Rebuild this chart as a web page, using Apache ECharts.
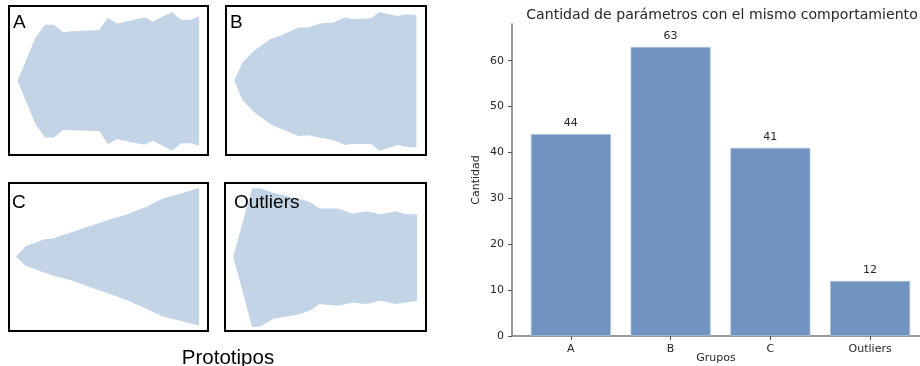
<!DOCTYPE html>
<html>
<head>
<meta charset="utf-8">
<script src="https://cdn.jsdelivr.net/npm/echarts@6/dist/echarts.min.js"></script>
<style>html,body{margin:0;padding:0;background:#fff}#c{width:920px;height:366px}</style>
</head>
<body>
<div id="c"></div>
<script>
// ---- Prototype bands (x: % of time span, values: normalized amplitude 0..100) ----
const protoA_x     = [4.3, 13.4, 18.1, 22.5, 27.2, 31.7, 45.4, 49.6, 54.4, 68.2, 72.3, 81.9, 86.4, 91.4, 95.5];
const protoA_upper = [49.9, 79.0, 87.4, 87.4, 82.3, 83.0, 83.9, 91.9, 88.3, 92.3, 89.6, 96.0, 90.7, 90.7, 92.9];
const protoA_lower = [49.9, 20.5, 11.7, 11.7, 16.8, 16.6, 16.1, 7.3, 10.6, 6.8, 9.5, 2.8, 7.9, 7.9, 6.2];

const protoB_x     = [4.1, 8.3, 14.0, 22.3, 27.2, 36.3, 41.2, 47.0, 53.6, 59.4, 63.5, 72.6, 76.7, 85.8, 90.0, 95.2];
const protoB_upper = [50.0, 62.2, 70.0, 77.8, 80.0, 85.5, 85.5, 88.2, 88.9, 92.2, 91.1, 91.8, 96.0, 93.3, 94.5, 94.0];
const protoB_lower = [50.0, 36.7, 28.9, 20.7, 17.8, 12.7, 13.3, 11.5, 10.0, 6.7, 7.3, 7.3, 2.9, 6.7, 5.5, 5.1];

const protoC_x     = [3.5, 8.5, 17.6, 22.5, 30.8, 40.8, 50.7, 59.1, 69.0, 77.3, 85.6, 95.5];
const protoC_upper = [50.1, 57.4, 61.9, 62.6, 66.4, 70.9, 75.4, 78.7, 83.9, 89.5, 92.6, 96.6];
const protoC_lower = [50.1, 44.0, 39.5, 37.3, 34.4, 29.5, 25.0, 21.0, 15.0, 9.8, 7.1, 3.8];

const protoO_x     = [4.1, 13.5, 17.6, 24.1, 35.7, 42.2, 47.1, 56.2, 63.5, 70.1, 77.5, 84.9, 89.9, 95.6];
const protoO_upper = [50.4, 96.4, 96.4, 93.3, 89.7, 87.1, 82.7, 82.7, 79.3, 80.9, 78.9, 80.9, 78.9, 78.9];
const protoO_lower = [50.4, 2.7, 3.1, 8.2, 10.9, 13.7, 18.2, 17.1, 19.3, 18.2, 20.4, 18.2, 19.2, 20.4];

const protoLabels = ['A', 'B', 'C', 'Outliers'];

// ---- Bar chart ----
const groups = ['A', 'B', 'C', 'Outliers'];
const counts = [44, 63, 41, 12];
const yTicks = [0, 10, 20, 30, 40, 50, 60];
const xTicks = [0, 1, 2, 3];

const chart = echarts.init(document.getElementById('c'), null, {renderer: 'canvas'});

const panelRects = [
  {left: 9, top: 6, width: 199, height: 149},
  {left: 226, top: 6, width: 200, height: 149},
  {left: 9, top: 183, width: 199, height: 148},
  {left: 225, top: 183, width: 201, height: 148}
];
const protos = [
  [protoA_x, protoA_upper, protoA_lower],
  [protoB_x, protoB_upper, protoB_lower],
  [protoC_x, protoC_upper, protoC_lower],
  [protoO_x, protoO_upper, protoO_lower]
];
const bandColor = '#c2d4e5';

const grids = [], xAxes = [], yAxes = [], series = [];
panelRects.forEach((r, i) => {
  grids.push(Object.assign({show: true, borderColor: '#000', borderWidth: 2, backgroundColor: '#fff',
    outerBoundsMode: 'none', containLabel: false}, r));
  xAxes.push({type: 'value', gridIndex: i, min: 0, max: 100, show: false});
  yAxes.push({type: 'value', gridIndex: i, min: 0, max: 100, show: false});
  const [xs, up, lo] = protos[i];
  series.push({
    type: 'custom', xAxisIndex: i, yAxisIndex: i, silent: true, clip: true,
    data: xs.map((x, k) => [x, up[k], lo[k]]),
    renderItem: (params, api) => {
      if (params.dataIndex !== 0) return null;
      const upperPts = xs.map((x, k) => api.coord([x, up[k]]));
      const lowerPts = xs.map((x, k) => api.coord([x, lo[k]])).reverse();
      return {type: 'polygon', shape: {points: upperPts.concat(lowerPts)}, style: {fill: bandColor}};
    }
  });
});

// bar grid
grids.push({left: 512, right: 0, top: 24, bottom: 30, show: false, outerBoundsMode: 'none', containLabel: false});
xAxes.push({
  type: 'value', gridIndex: 4, min: -0.59, max: 3.5,
  splitLine: {show: false},
  axisLine: {show: true, onZero: false, lineStyle: {color: '#777', width: 1.5}},
  axisTick: {show: true, length: 4, lineStyle: {color: '#555'}, customValues: xTicks},
  axisLabel: {customValues: xTicks, formatter: v => groups[Math.round(v)], color: '#262626',
    fontFamily: 'DejaVu Sans', fontSize: 11, margin: 8},
  name: 'Grupos', nameLocation: 'middle', nameGap: 17, nameMoveOverlap: false,
  nameTextStyle: {color: '#262626', fontFamily: 'DejaVu Sans', fontSize: 11}
});
yAxes.push({
  type: 'value', gridIndex: 4, min: 0, max: 68,
  splitLine: {show: false},
  axisLine: {show: true, onZero: false, lineStyle: {color: '#777', width: 1.5}},
  axisTick: {show: true, length: 4, lineStyle: {color: '#555'}, customValues: yTicks},
  axisLabel: {customValues: yTicks, color: '#262626', fontFamily: 'DejaVu Sans', fontSize: 11, margin: 8},
  name: 'Cantidad', nameLocation: 'middle', nameGap: 30, nameRotate: 90, nameMoveOverlap: false,
  nameTextStyle: {color: '#262626', fontFamily: 'DejaVu Sans', fontSize: 11}
});
series.push({
  type: 'bar', xAxisIndex: 4, yAxisIndex: 4, barWidth: 80,
  itemStyle: {color: '#7093c0', borderColor: '#a9bfdb', borderWidth: 0.8},
  label: {show: true, position: 'top', distance: 5, color: '#262626', fontFamily: 'DejaVu Sans', fontSize: 11},
  data: counts.map((c, i) => [i, c])
});

const labelPos = [[13, 13], [230, 13], [12, 193], [234, 193]];
const graphic = protoLabels.map((t, i) => ({
  type: 'text', left: labelPos[i][0], top: labelPos[i][1], z: 100,
  style: {text: t, fill: '#000', font: '19px "Liberation Sans", Arial, sans-serif'}
}));

chart.setOption({
  animation: false,
  backgroundColor: '#fff',
  title: [
    {text: 'Cantidad de parámetros con el mismo comportamiento', left: 717, top: 3, textAlign: 'center',
     textStyle: {fontFamily: 'DejaVu Sans', fontSize: 14.1, fontWeight: 'normal', color: '#262626'}},
    {text: 'Prototipos', left: 223, top: 343, textAlign: 'center',
     textStyle: {fontFamily: 'Liberation Sans', fontSize: 20.5, fontWeight: 'normal', color: '#000'}}
  ],
  grid: grids, xAxis: xAxes, yAxis: yAxes, series: series, graphic: graphic
});
</script>
</body>
</html>
